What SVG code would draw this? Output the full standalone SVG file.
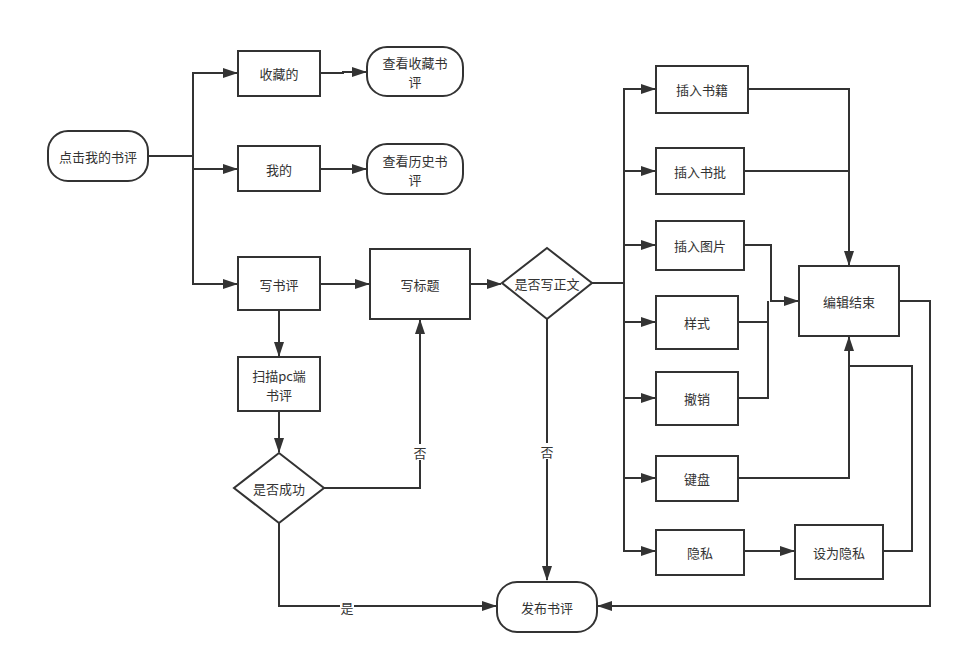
<svg xmlns="http://www.w3.org/2000/svg" width="960" height="663" viewBox="0 0 960 663">
<style>
.n{fill:#fff;stroke:#333;stroke-width:2}
.t{font-family:"Noto Sans CJK SC","Liberation Sans",sans-serif;font-size:13px;fill:#333;text-anchor:middle;dominant-baseline:central}
.c{fill:none;stroke:#333;stroke-width:2}
.lb{fill:#fff}
</style>
<defs>
<marker id="a" markerUnits="userSpaceOnUse" markerWidth="15" markerHeight="10" refX="14" refY="5" orient="auto">
<path d="M0,0 L15,5 L0,10 z" fill="#333"/>
</marker>
</defs>
<rect width="960" height="663" fill="#fff"/>
<g id="connectors">
<path class="c" d="M148,156 H193"/>
<path class="c" d="M193,156 V73 H237" marker-end="url(#a)"/>
<path class="c" d="M193,156 V169 H237" marker-end="url(#a)"/>
<path class="c" d="M193,156 V284 H237" marker-end="url(#a)"/>
<path class="c" d="M320,73 H343 V72 H366" marker-end="url(#a)"/>
<path class="c" d="M320,169 H366" marker-end="url(#a)"/>
<path class="c" d="M320,284 H369" marker-end="url(#a)"/>
<path class="c" d="M470,284 H501" marker-end="url(#a)"/>
<path class="c" d="M279,310 V356" marker-end="url(#a)"/>
<path class="c" d="M279,411 V452" marker-end="url(#a)"/>
<path class="c" d="M324,488 H420 V320" marker-end="url(#a)"/>
<rect class="lb" x="413" y="444" width="14" height="16"/>
<text class="t" x="420" y="452">否</text>
<path class="c" d="M279,523 V606 H496" marker-end="url(#a)"/>
<rect class="lb" x="340" y="599" width="14" height="16"/>
<text class="t" x="347" y="607">是</text>
<path class="c" d="M547,319 V580" marker-end="url(#a)"/>
<rect class="lb" x="540" y="443" width="14" height="16"/>
<text class="t" x="547" y="451">否</text>
<path class="c" d="M592,283 H624"/>
<path class="c" d="M624,283 V89 H655" marker-end="url(#a)"/>
<path class="c" d="M624,171 H655" marker-end="url(#a)"/>
<path class="c" d="M624,245 H655" marker-end="url(#a)"/>
<path class="c" d="M624,283 V551 H655" marker-end="url(#a)"/>
<path class="c" d="M624,322 H655" marker-end="url(#a)"/>
<path class="c" d="M624,398 H655" marker-end="url(#a)"/>
<path class="c" d="M624,478 H655" marker-end="url(#a)"/>
<path class="c" d="M748,89 H849 V265" marker-end="url(#a)"/>
<path class="c" d="M744,171 H849"/>
<path class="c" d="M744,245 H771 V301 H798" marker-end="url(#a)"/>
<path class="c" d="M738,322 H768 V301"/>
<path class="c" d="M738,398 H768 V322"/>
<path class="c" d="M738,478 H849 V337" marker-end="url(#a)"/>
<path class="c" d="M744,551 H794" marker-end="url(#a)"/>
<path class="c" d="M883,551 H912 V366 H849"/>
<path class="c" d="M899,301 H930 V606 H598" marker-end="url(#a)"/>
</g>
<g id="n1"><rect class="n" x="48" y="131" width="100" height="50" rx="20"/><text class="t" x="98" y="156">点击我的书评</text></g>
<g id="n2"><rect class="n" x="238" y="51" width="82" height="45"/><text class="t" x="279" y="73">收藏的</text></g>
<g id="n3"><rect class="n" x="367" y="47" width="96" height="49" rx="20"/><text class="t" x="415" y="62">查看收藏书<tspan x="415" dy="19">评</tspan></text></g>
<g id="n4"><rect class="n" x="238" y="146" width="82" height="45"/><text class="t" x="279" y="169">我的</text></g>
<g id="n5"><rect class="n" x="367" y="144" width="96" height="50" rx="20"/><text class="t" x="415" y="160">查看历史书<tspan x="415" dy="19">评</tspan></text></g>
<g id="n6"><rect class="n" x="238" y="257" width="82" height="53"/><text class="t" x="279" y="284">写书评</text></g>
<g id="n7"><rect class="n" x="370" y="249" width="100" height="70"/><text class="t" x="420" y="284">写标题</text></g>
<g id="n8"><polygon class="n" points="547,248 592,283 547,319 502,283"/><text class="t" x="547" y="283">是否写正文</text></g>
<g id="n9"><rect class="n" x="238" y="357" width="82" height="54"/><text class="t" x="279" y="375">扫描pc端<tspan x="279" dy="19">书评</tspan></text></g>
<g id="n10"><polygon class="n" points="279,453 324,488 279,523 234,488"/><text class="t" x="279" y="488">是否成功</text></g>
<g id="n11"><rect class="n" x="497" y="582" width="100" height="50" rx="20"/><text class="t" x="547" y="607">发布书评</text></g>
<g id="n12"><rect class="n" x="656" y="66" width="92" height="47"/><text class="t" x="702" y="89">插入书籍</text></g>
<g id="n13"><rect class="n" x="656" y="148" width="88" height="46"/><text class="t" x="700" y="171">插入书批</text></g>
<g id="n14"><rect class="n" x="656" y="221" width="88" height="49"/><text class="t" x="700" y="245">插入图片</text></g>
<g id="n15"><rect class="n" x="799" y="266" width="100" height="70"/><text class="t" x="849" y="301">编辑结束</text></g>
<g id="n16"><rect class="n" x="656" y="296" width="82" height="53"/><text class="t" x="697" y="322">样式</text></g>
<g id="n17"><rect class="n" x="656" y="372" width="82" height="53"/><text class="t" x="697" y="398">撤销</text></g>
<g id="n18"><rect class="n" x="656" y="456" width="82" height="45"/><text class="t" x="697" y="478">键盘</text></g>
<g id="n19"><rect class="n" x="656" y="530" width="88" height="45"/><text class="t" x="700" y="552">隐私</text></g>
<g id="n20"><rect class="n" x="795" y="525" width="88" height="54"/><text class="t" x="839" y="552">设为隐私</text></g>
</svg>
